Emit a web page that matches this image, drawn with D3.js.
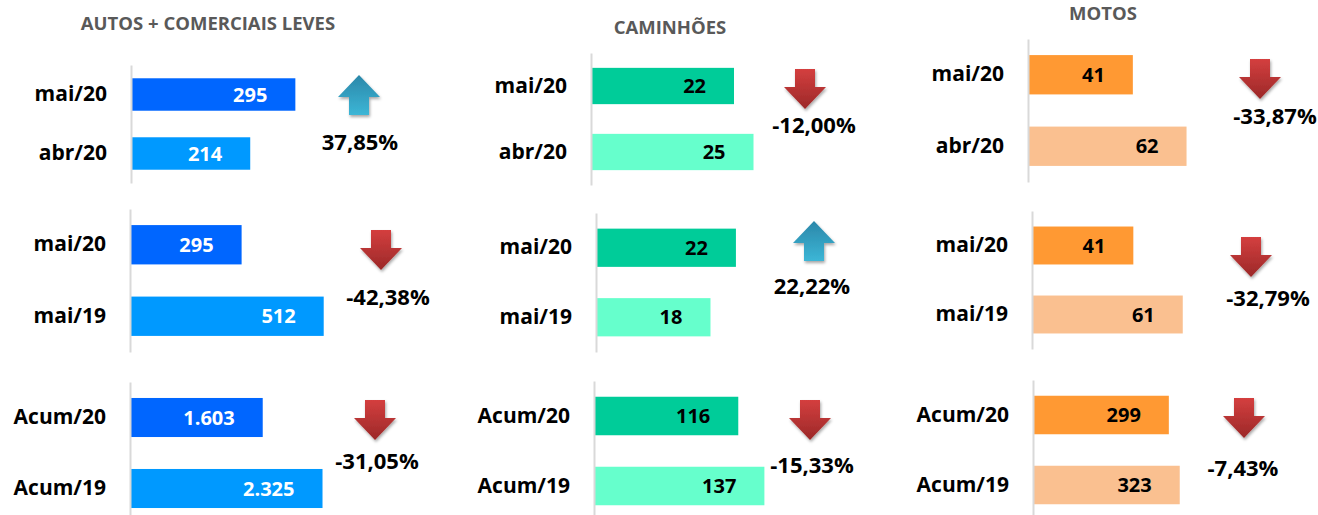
<!DOCTYPE html>
<html>
<head>
<meta charset="utf-8">
<script src="https://cdn.jsdelivr.net/npm/d3@7"></script>
<style>
  body { margin: 0; background: #fff; }
  svg { display: block; font-family: "Open Sans", sans-serif; }
</style>
</head>
<body>
<svg></svg>
<script>
// data
var groups = ["AUTOS + COMERCIAIS LEVES", "CAMINHÕES", "MOTOS"];
var periods = [["mai/20", "abr/20"], ["mai/20", "mai/19"], ["Acum/20", "Acum/19"]];
var autos = [[295, 214], [295, 512], [1603, 2325]];
var caminhoes = [[22, 25], [22, 18], [116, 137]];
var motos = [[41, 62], [41, 61], [299, 323]];
var autosPct = [37.85, -42.38, -31.05];
var caminhoesPct = [-12.00, 22.22, -15.33];
var motosPct = [-33.87, -32.79, -7.43];
// hidden axis maximum of each small chart
var autosMax = [350, 600, 2500];
var caminhoesMax = [30, 25, 160];
var motosMax = [70, 70, 350];

var values = [autos, caminhoes, motos];
var pcts = [autosPct, caminhoesPct, motosPct];
var maxes = [autosMax, caminhoesMax, motosMax];

var svgWidth = 1318;
var svgHeight = 515;
var colors = [["#0066FF", "#0099FF"], ["#00CC99", "#66FFCC"], ["#FF9933", "#FAC090"]];
var labelColors = ["#ffffff", "#000000", "#000000"];

// layout: title per column, then each panel (axis x, top, bottom, plot width, arrow, percent)
var titlePos = [[208, 30], [670, 34], [1103, 20]];
var panelPos = [
  [{x: 131, y0: 65, y1: 183, w: 195, ax: 359, ay: 75, px: 360, py: 142},
   {x: 130, y0: 209, y1: 352, w: 227, ax: 381, ay: 230, px: 388, py: 297},
   {x: 130, y0: 382, y1: 524, w: 207, ax: 375, ay: 400, px: 377, py: 461}],
  [{x: 591, y0: 53, y1: 185, w: 195, ax: 805, ay: 69, px: 814, py: 125},
   {x: 596, y0: 213, y1: 352, w: 159, ax: 814, ay: 221, px: 812, py: 286},
   {x: 594, y0: 381, y1: 521, w: 199, ax: 810, ay: 400, px: 812, py: 465}],
  [{x: 1028, y0: 39, y1: 182, w: 179, ax: 1260, ay: 59, px: 1275, py: 116},
   {x: 1032, y0: 211, y1: 349, w: 173, ax: 1251, ay: 237, px: 1268, py: 298},
   {x: 1033, y0: 380, y1: 520, w: 159, ax: 1244, ay: 398, px: 1243, py: 468}]
];

var br = d3.formatLocale({decimal: ",", thousands: ".", grouping: [3], currency: ["R$", ""], minus: "-"});
var fmtNum = br.format(",d");
var fmtPct = br.format(".2f");

var svg = d3.select("svg").attr("width", svgWidth).attr("height", svgHeight);

var defs = svg.append("defs");
var gUp = defs.append("linearGradient").attr("id", "gradUp").attr("x1", 0).attr("y1", 0).attr("x2", 0).attr("y2", 1);
gUp.append("stop").attr("offset", "0%").attr("stop-color", "#2B87A9");
gUp.append("stop").attr("offset", "100%").attr("stop-color", "#3CB6D6");
var gDown = defs.append("linearGradient").attr("id", "gradDown").attr("x1", 0).attr("y1", 0).attr("x2", 0).attr("y2", 1);
gDown.append("stop").attr("offset", "0%").attr("stop-color", "#D43F3F");
gDown.append("stop").attr("offset", "100%").attr("stop-color", "#9B2828");
var shadow = defs.append("filter").attr("id", "shadow").attr("x", "-30%").attr("y", "-30%").attr("width", "160%").attr("height", "160%");
shadow.append("feDropShadow").attr("dx", 1).attr("dy", 2).attr("stdDeviation", 1.5).attr("flood-color", "#000").attr("flood-opacity", 0.35);

var upPath = "M0,0 L21,22 L10,22 L10,40 L-10,40 L-10,22 L-21,22 Z";
var downPath = "M-10,0 L10,0 L10,18 L21,18 L0,40 L-21,18 L-10,18 Z";

groups.forEach(function (title, c) {
    svg.append("text")
        .attr("x", titlePos[c][0])
        .attr("y", titlePos[c][1])
        .attr("text-anchor", "middle")
        .attr("fill", "#595959")
        .attr("font-weight", "bold")
        .attr("font-size", 18.5)
        .text(title);

    periods.forEach(function (labels, r) {
        var p = panelPos[c][r];
        var data = values[c][r];

        var x = d3.scaleLinear().domain([0, maxes[c][r]]).range([p.x, p.x + p.w]);
        var y = d3.scaleBand().domain(labels).range([p.y0, p.y1]).paddingInner(0.45).paddingOuter(0.225);

        var g = svg.append("g");

        g.selectAll("rect")
            .data(data)
            .enter()
            .append("rect")
            .attr("x", x(0))
            .attr("y", function (d, i) { return y(labels[i]); })
            .attr("width", function (d) { return x(d) - x(0); })
            .attr("height", y.bandwidth())
            .attr("fill", function (d, i) { return colors[c][i]; });

        g.selectAll("text.val")
            .data(data)
            .enter()
            .append("text")
            .attr("class", "val")
            .attr("x", function (d) { return x(d) - 28; })
            .attr("y", function (d, i) { return y(labels[i]) + y.bandwidth() / 2; })
            .attr("dy", "0.36em")
            .attr("text-anchor", "end")
            .attr("font-weight", "bold")
            .attr("font-size", 20)
            .attr("fill", labelColors[c])
            .text(function (d) { return fmtNum(d); });

        var axis = g.append("g")
            .attr("transform", "translate(" + x(0) + ",0)")
            .call(d3.axisLeft(y).tickSize(0).tickSizeOuter(0).tickPadding(24));
        axis.select(".domain").attr("stroke", "#D9D9D9").attr("stroke-width", 2);
        axis.selectAll("text")
            .attr("font-family", "Open Sans, sans-serif")
            .attr("font-size", 21)
            .attr("font-weight", "bold")
            .attr("fill", "#000");

        var v = pcts[c][r];
        g.append("path")
            .attr("d", v >= 0 ? upPath : downPath)
            .attr("transform", "translate(" + p.ax + "," + p.ay + ")")
            .attr("fill", v >= 0 ? "url(#gradUp)" : "url(#gradDown)")
            .attr("filter", "url(#shadow)");

        g.append("text")
            .attr("x", p.px)
            .attr("y", p.py)
            .attr("dy", "0.36em")
            .attr("text-anchor", "middle")
            .attr("font-weight", "bold")
            .attr("font-size", 22)
            .attr("fill", "#000")
            .text(fmtPct(v) + "%");
    });
});
</script>
</body>
</html>
